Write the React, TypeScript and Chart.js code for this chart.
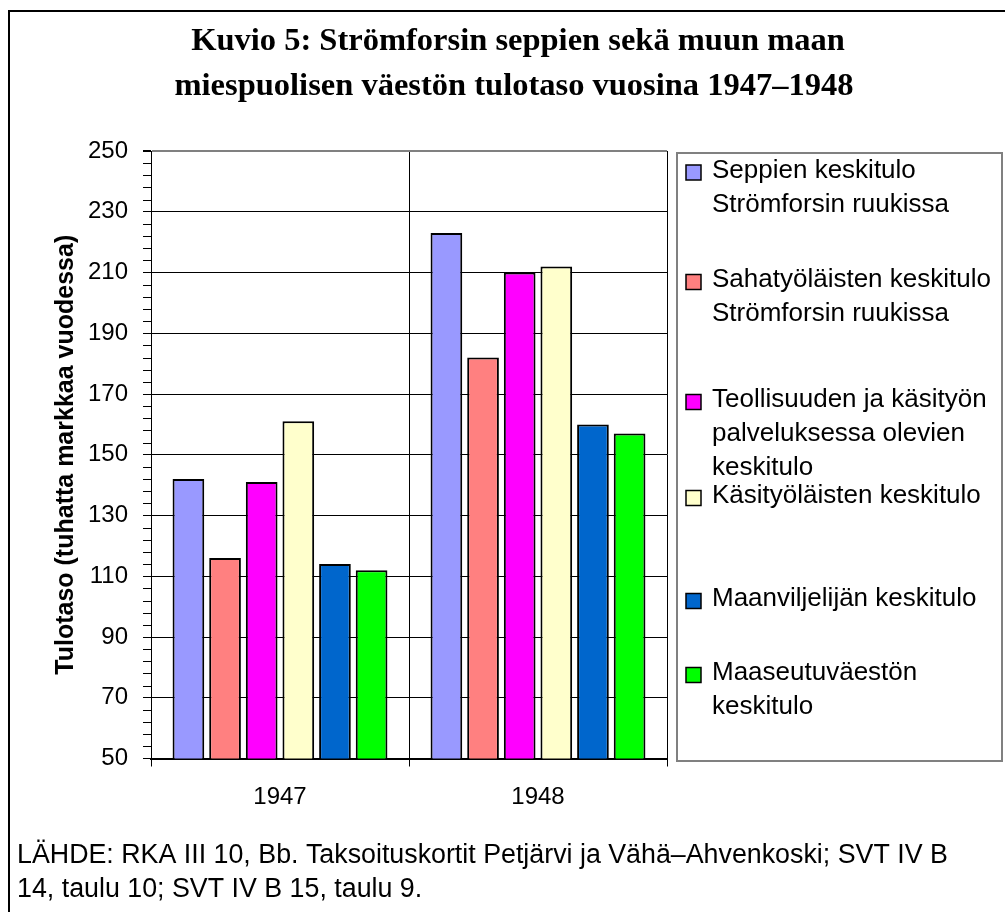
import React, { useEffect, useRef } from "react";
import { Chart, registerables } from "chart.js";

Chart.register(...registerables);

// ---------- data ----------
const categories = ["1947", "1948"];
const seriesLabels = [
  "Seppien keskitulo Strömforsin ruukissa",
  "Sahatyöläisten keskitulo Strömforsin ruukissa",
  "Teollisuuden ja käsityön palveluksessa olevien keskitulo",
  "Käsityöläisten keskitulo",
  "Maanviljelijän keskitulo",
  "Maaseutuväestön keskitulo",
];
const legendLines = [
  ["Seppien keskitulo", "Strömforsin ruukissa"],
  ["Sahatyöläisten keskitulo", "Strömforsin ruukissa"],
  ["Teollisuuden ja käsityön", "palveluksessa olevien", "keskitulo"],
  ["Käsityöläisten keskitulo"],
  ["Maanviljelijän keskitulo"],
  ["Maaseutuväestön", "keskitulo"],
];
const seppien = [142, 223];
const sahatyolaiset = [116, 182];
const teollisuus = [141, 210];
const kasityolaiset = [161, 212];
const maanviljelijat = [114, 160];
const maaseutu = [112, 157];
const seriesValues = [seppien, sahatyolaiset, teollisuus, kasityolaiset, maanviljelijat, maaseutu];

const yMin = 50;
const yMax = 250;
const yStep = 20;
const yMinorStep = 4;

const titleLines = [
  "Kuvio 5: Strömforsin seppien sekä muun maan",
  "miespuolisen väestön tulotaso vuosina 1947–1948",
];
const yTitle = "Tulotaso (tuhatta markkaa vuodessa)";
const sourceLines = [
  "LÄHDE: RKA III 10, Bb. Taksoituskortit Petjärvi ja Vähä–Ahvenkoski; SVT IV B",
  "14, taulu 10; SVT IV B 15, taulu 9.",
];

// ---------- styles / layout ----------
const seriesColors = ["#9999FF", "#FF8080", "#FF00FF", "#FFFFCC", "#0066CC", "#00FF00"];
const W = 1005;
const H = 912;
const SANS = '"Liberation Sans", Arial, sans-serif';
const SERIF = '"Liberation Serif", "Times New Roman", serif';
const legendFirstBaselines = [177.5, 287, 407, 503, 606, 680];
const legendLineGap = 34;

const decorPlugin = {
  id: "decor",
  afterDraw(chart: any) {
    const ctx = chart.ctx as CanvasRenderingContext2D;
    const area = chart.chartArea;
    ctx.save();
    // outer frame
    ctx.strokeStyle = "#000";
    ctx.lineWidth = 2;
    ctx.strokeRect(9, 11, 1200, 1200);

    // title
    ctx.fillStyle = "#000";
    ctx.font = `bold 32.5px ${SERIF}`;
    ctx.textAlign = "center";
    ctx.textBaseline = "alphabetic";
    ctx.fillText(titleLines[0], 518, 50);
    ctx.fillText(titleLines[1], 514, 95);

    // minor y ticks
    const ys = chart.scales.y;
    ctx.strokeStyle = "#000";
    ctx.lineWidth = 1;
    for (let v = yMin; v <= yMax; v += yMinorStep) {
      if ((v - yMin) % yStep === 0) continue;
      const py = Math.round(ys.getPixelForValue(v)) + 0.5;
      ctx.beginPath();
      ctx.moveTo(area.left - 8, py);
      ctx.lineTo(area.left, py);
      ctx.stroke();
    }

    // legend box
    ctx.strokeStyle = "#808080";
    ctx.lineWidth = 2;
    ctx.strokeRect(677, 153, 325, 608);
    ctx.font = `26px ${SANS}`;
    ctx.textAlign = "left";
    ctx.textBaseline = "alphabetic";
    chart.data.datasets.forEach((ds: any, i: number) => {
      const base = legendFirstBaselines[i];
      ctx.fillStyle = ds.backgroundColor;
      ctx.fillRect(686, base - 12.5, 15, 15);
      ctx.strokeStyle = "#000";
      ctx.lineWidth = 1.5;
      ctx.strokeRect(686, base - 12.5, 15, 15);
      ctx.fillStyle = "#000";
      legendLines[i].forEach((t, j) => ctx.fillText(t, 712, base + j * legendLineGap));
    });

    // source
    ctx.font = `26.8px ${SANS}`;
    ctx.fillText(sourceLines[0], 17, 863);
    ctx.fillText(sourceLines[1], 17, 897);
    ctx.restore();
  },
};

export default function App() {
  const ref = useRef<HTMLCanvasElement | null>(null);
  useEffect(() => {
    if (!ref.current) return;
    const chart = new Chart(ref.current, {
      type: "bar",
      data: {
        labels: categories,
        datasets: seriesValues.map((vals, i) => ({
          label: seriesLabels[i],
          data: vals,
          backgroundColor: seriesColors[i],
          borderColor: "#000",
          borderWidth: 2,
          borderSkipped: false,
          categoryPercentage: 0.852,
          barPercentage: 0.865,
        })),
      },
      options: {
        responsive: false,
        animation: false,
        devicePixelRatio: 1,
        layout: { padding: { top: 151, right: W - 667, left: 0, bottom: 0 } },
        plugins: {
          legend: { display: false },
          title: { display: false },
          tooltip: { enabled: false },
        },
        scales: {
          x: {
            offset: true,
            afterFit: (s: any) => {
              s.height = H - 758.5;
            },
            grid: {
              offset: true,
              color: (c: any) => (c.index === 2 ? "#808080" : "#000"),
              lineWidth: (c: any) => (c.index === 2 ? 2 : 1),
              tickLength: 8,
            },
            border: { color: "#000", width: 2 },
            ticks: {
              color: "#000",
              font: { family: SANS, size: 24 },
              padding: 16,
            },
          },
          y: {
            min: yMin,
            max: yMax,
            afterFit: (s: any) => {
              s.width = 151;
            },
            ticks: {
              stepSize: yStep,
              color: "#000",
              font: { family: SANS, size: 24 },
              padding: 15,
            },
            grid: {
              color: (c: any) => (c.tick && c.tick.value === yMax ? "#808080" : "#000"),
              lineWidth: (c: any) => (c.tick && c.tick.value === yMax ? 2 : 1),
              tickLength: 8,
              tickColor: "#000",
            },
            border: { color: "#000", width: 1 },
            title: {
              display: true,
              text: yTitle,
              color: "#000",
              font: { family: SANS, size: 25, weight: "bold" },
              padding: { top: 51, bottom: 0 },
            },
          },
        },
      },
      plugins: [decorPlugin],
    });
    return () => chart.destroy();
  }, []);

  return (
    <div style={{ width: W, height: H, overflow: "hidden", background: "#fff" }}>
      <style>{`html,body{margin:0;padding:0;overflow:hidden;background:#fff}`}</style>
      <canvas ref={ref} width={W} height={H} style={{ display: "block" }} />
    </div>
  );
}
